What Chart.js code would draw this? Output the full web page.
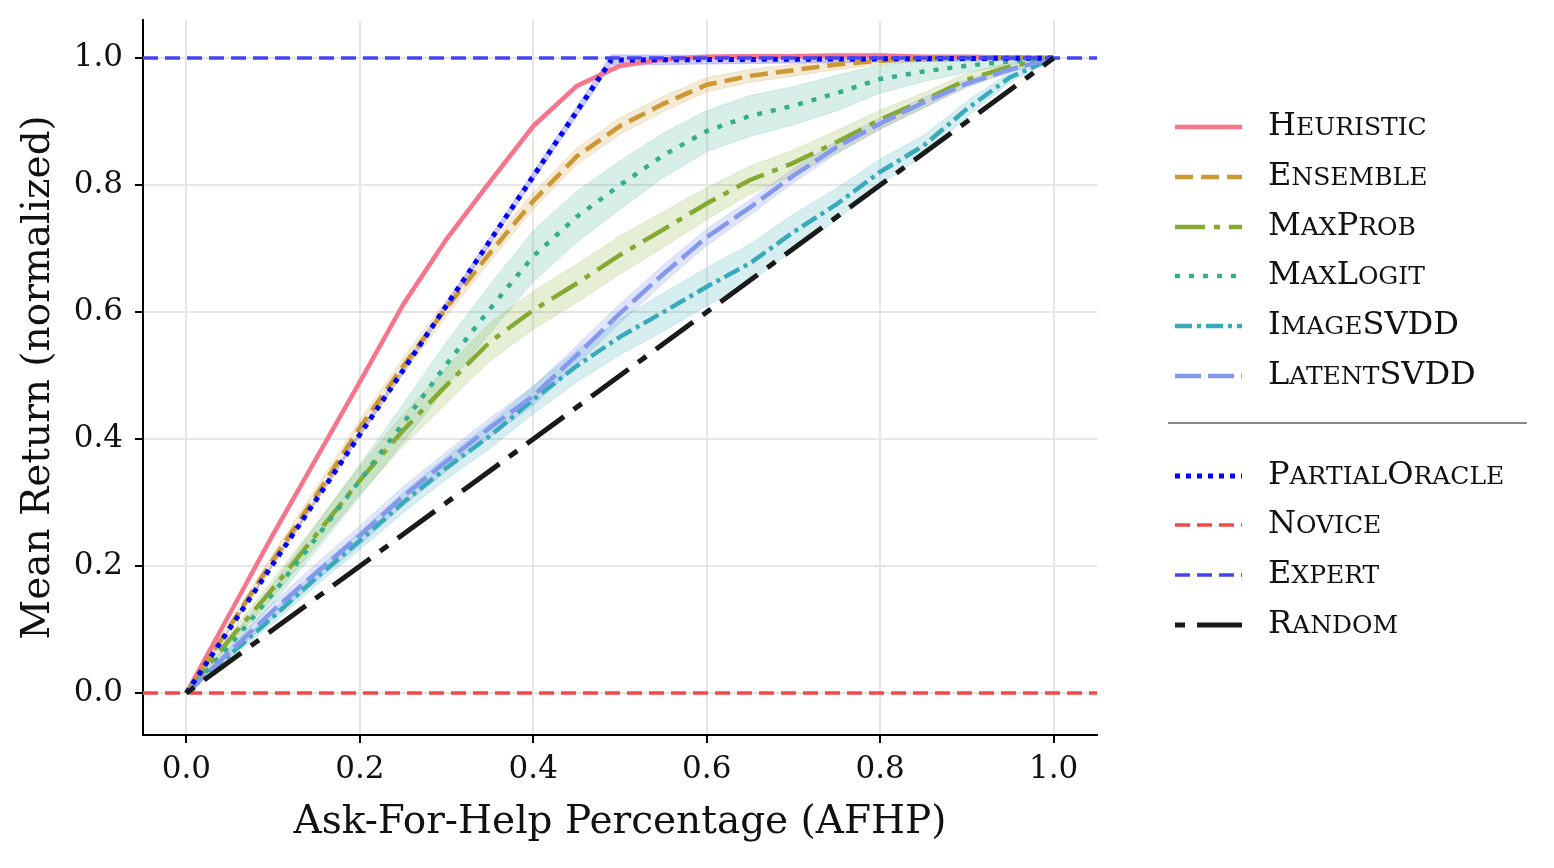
<!DOCTYPE html>
<html>
<head>
<meta charset="utf-8">
<script src="https://cdn.jsdelivr.net/npm/chart.js@4.4.0/dist/chart.umd.min.js"></script>
<style>
  html, body { margin: 0; padding: 0; background: #fff; }
  #wrap { position: relative; width: 1554px; height: 868px; }
  #legend { position: absolute; left: 0; top: 0; width: 1554px; height: 868px; pointer-events: none; }
  .row { position: absolute; left: 1170px; height: 40px; display: flex; align-items: center; }
  .row .lbl { margin-left: 24px; font-family: 'DejaVu Serif', serif; color: #111; white-space: nowrap; line-height: 40px; }
  .big { font-size: 32px; }
  .small { font-size: 25px; }
  .sep { position: absolute; left: 1168px; width: 359px; height: 0; border-top: 2px solid #888; }
</style>
</head>
<body>
<div id="wrap">
  <canvas id="chart" width="1554" height="868"></canvas>
  <div id="legend"></div>
</div>
<script>
// x grid (ask-for-help percentage)
const afhp = [0, 0.05, 0.1, 0.15, 0.2, 0.25, 0.3, 0.35, 0.4, 0.45, 0.5, 0.55, 0.6, 0.65, 0.7, 0.75, 0.8, 0.85, 0.9, 0.95, 1.0];

const heuristic   = [0, 0.125, 0.25, 0.37, 0.49, 0.612, 0.715, 0.805, 0.893, 0.956, 0.988, 0.998, 1.002, 1.003, 1.003, 1.004, 1.004, 1.002, 1.002, 1.001, 1.0];
const heuristicSd = [0, 0.004, 0.005, 0.005, 0.005, 0.005, 0.005, 0.005, 0.005, 0.004, 0.004, 0.003, 0.003, 0.003, 0.003, 0.003, 0.003, 0.002, 0.002, 0.001, 0];

const ensemble   = [0, 0.105, 0.21, 0.312, 0.418, 0.515, 0.607, 0.693, 0.775, 0.845, 0.893, 0.928, 0.958, 0.972, 0.981, 0.99, 0.996, 1.0, 1.001, 1.001, 1.0];
const ensembleSd = [0, 0.006, 0.01, 0.012, 0.012, 0.013, 0.013, 0.013, 0.013, 0.013, 0.013, 0.012, 0.011, 0.01, 0.009, 0.008, 0.006, 0.004, 0.003, 0.002, 0];

const maxProb   = [0, 0.085, 0.165, 0.25, 0.335, 0.414, 0.485, 0.553, 0.603, 0.645, 0.69, 0.73, 0.771, 0.808, 0.835, 0.868, 0.903, 0.933, 0.966, 0.987, 1.0];
const maxProbSd = [0, 0.008, 0.014, 0.018, 0.022, 0.025, 0.028, 0.03, 0.03, 0.03, 0.03, 0.028, 0.025, 0.022, 0.02, 0.018, 0.015, 0.012, 0.01, 0.006, 0];

const maxLogit   = [0, 0.075, 0.157, 0.245, 0.335, 0.425, 0.518, 0.605, 0.688, 0.75, 0.8, 0.847, 0.885, 0.909, 0.925, 0.945, 0.967, 0.979, 0.988, 0.995, 1.0];
const maxLogitSd = [0, 0.008, 0.015, 0.02, 0.025, 0.03, 0.035, 0.038, 0.04, 0.04, 0.038, 0.035, 0.032, 0.032, 0.03, 0.028, 0.022, 0.016, 0.01, 0.006, 0];

const imageSvdd   = [0, 0.06, 0.12, 0.182, 0.24, 0.3, 0.355, 0.405, 0.462, 0.515, 0.561, 0.6, 0.64, 0.677, 0.726, 0.77, 0.821, 0.862, 0.92, 0.97, 1.0];
const imageSvddSd = [0, 0.006, 0.01, 0.012, 0.014, 0.016, 0.018, 0.02, 0.022, 0.025, 0.028, 0.03, 0.03, 0.03, 0.028, 0.025, 0.02, 0.016, 0.012, 0.008, 0];

const latentSvdd   = [0, 0.065, 0.13, 0.19, 0.248, 0.31, 0.365, 0.418, 0.468, 0.532, 0.598, 0.66, 0.718, 0.765, 0.815, 0.86, 0.897, 0.93, 0.96, 0.982, 1.0];
const latentSvddSd = [0, 0.008, 0.012, 0.014, 0.015, 0.015, 0.015, 0.015, 0.015, 0.015, 0.015, 0.014, 0.013, 0.012, 0.011, 0.01, 0.009, 0.008, 0.006, 0.004, 0];

const oracleX  = [0, 0.49, 1.0];
const oracle   = [0, 0.997, 1.0];
const oracleSd = [0, 0.008, 0.003];

const randomX = [0, 1.0];
const random  = [0, 1.0];

const baselineX = [-0.05, 1.05];
const novice = [0, 0];
const expert = [1, 1];

const xTicks = [0, 0.2, 0.4, 0.6, 0.8, 1.0];
const yTicks = [0, 0.2, 0.4, 0.6, 0.8, 1.0];

const names = ['Heuristic', 'Ensemble', 'MaxProb', 'MaxLogit', 'ImageSVDD', 'LatentSVDD', 'PartialOracle', 'Novice', 'Expert', 'Random'];

// styles
const style = {
  Heuristic:     { color: '#f7758a', band: 'rgba(247,117,138,0.2)', width: 4.5, dash: [] },
  Ensemble:      { color: '#cc9833', band: 'rgba(204,152,51,0.2)',  width: 4.5, dash: [18, 8] },
  MaxProb:       { color: '#85aa33', band: 'rgba(133,170,51,0.2)',  width: 4.5, dash: [30, 9, 6, 9] },
  MaxLogit:      { color: '#35ae8a', band: 'rgba(53,174,138,0.2)',  width: 4.5, dash: [5, 9] },
  ImageSVDD:     { color: '#38aabb', band: 'rgba(56,170,187,0.2)',  width: 4.5, dash: [17, 5, 4, 5] },
  LatentSVDD:    { color: '#8499ee', band: 'rgba(132,153,238,0.25)', width: 4.5, dash: [26, 7] },
  PartialOracle: { color: '#0000ff', band: 'rgba(110,110,255,0.35)', width: 5, dash: [5, 6] },
  Novice:        { color: '#f44848', width: 3.5, dash: [15, 7] },
  Expert:        { color: '#4444f4', width: 3.5, dash: [15, 7] },
  Random:        { color: '#1a1a1a', width: 5, dash: [10, 12, 46, 12] }
};

function pts(xs, ys) { return xs.map((x, i) => ({ x: x, y: ys[i] })); }

const datasets = [];

function addBand(name, xs, mean, sd) {
  const s = style[name];
  datasets.push({
    label: name + ' upper', data: pts(xs, mean.map((m, i) => m + sd[i])),
    borderColor: s.band, borderWidth: 1, pointRadius: 0, fill: false, order: 100
  });
  datasets.push({
    label: name + ' lower', data: pts(xs, mean.map((m, i) => m - sd[i])),
    borderColor: s.band, borderWidth: 1, pointRadius: 0, fill: '-1', backgroundColor: s.band, order: 100
  });
}

function addLine(name, xs, ys, order) {
  const s = style[name];
  datasets.push({
    label: name, data: pts(xs, ys), borderColor: s.color, borderWidth: s.width,
    borderDash: s.dash, borderCapStyle: 'butt', pointRadius: 0, fill: false, order: order
  });
}

addBand('Heuristic', afhp, heuristic, heuristicSd);
addBand('Ensemble', afhp, ensemble, ensembleSd);
addBand('MaxProb', afhp, maxProb, maxProbSd);
addBand('MaxLogit', afhp, maxLogit, maxLogitSd);
addBand('ImageSVDD', afhp, imageSvdd, imageSvddSd);
addBand('LatentSVDD', afhp, latentSvdd, latentSvddSd);
addBand('PartialOracle', oracleX, oracle, oracleSd);

addLine('Heuristic', afhp, heuristic, 10);
addLine('Ensemble', afhp, ensemble, 9);
addLine('MaxProb', afhp, maxProb, 8);
addLine('MaxLogit', afhp, maxLogit, 7);
addLine('ImageSVDD', afhp, imageSvdd, 6);
addLine('LatentSVDD', afhp, latentSvdd, 5);
addLine('PartialOracle', oracleX, oracle, 4);
addLine('Novice', baselineX, novice, 3);
addLine('Expert', baselineX, expert, 2);
addLine('Random', randomX, random, 1);

Chart.defaults.font.family = "'DejaVu Serif', serif";
Chart.defaults.color = '#111';

const titleFont = { size: 39, family: "'DejaVu Serif', serif" };
const tickFont = { size: 31, family: "'DejaVu Serif', serif" };

new Chart(document.getElementById('chart').getContext('2d'), {
  type: 'line',
  data: { datasets: datasets },
  options: {
    responsive: false,
    animation: false,
    devicePixelRatio: 1,
    layout: { padding: { left: 0, top: 20, right: 457, bottom: 0 } },
    plugins: { legend: { display: false }, tooltip: { enabled: false } },
    scales: {
      x: {
        type: 'linear', min: -0.05, max: 1.05,
        afterBuildTicks: s => { s.ticks = xTicks.map(v => ({ value: v })); },
        afterFit: s => { s.height = 133; s.paddingLeft = 0; s.paddingRight = 0; },
        ticks: { font: tickFont, padding: 8, maxRotation: 0, callback: v => v.toFixed(1) },
        grid: { color: '#e6e6e6', lineWidth: 2, tickColor: '#000', tickWidth: 2, tickLength: 8 },
        border: { display: true, color: '#000', width: 2 },
        title: { display: true, text: 'Ask-For-Help Percentage (AFHP)', font: titleFont, padding: { top: 0, bottom: 22 } }
      },
      y: {
        type: 'linear', min: -0.066, max: 1.06,
        afterBuildTicks: s => { s.ticks = yTicks.map(v => ({ value: v })); },
        afterFit: s => { s.width = 143; s.paddingTop = 0; s.paddingBottom = 0; },
        ticks: { font: tickFont, padding: 12, callback: v => v.toFixed(1) },
        grid: { color: '#e6e6e6', lineWidth: 2, tickColor: '#000', tickWidth: 2, tickLength: 8 },
        border: { display: true, color: '#000', width: 2 },
        title: { display: true, text: 'Mean Return (normalized)', font: titleFont, padding: { top: 15, bottom: 0 } }
      }
    }
  }
});

// legend (HTML, right side) with small capitals built from the names
const legend = document.getElementById('legend');
const rowY = [127, 177, 227, 276, 326, 376, 476, 525, 575, 625];
const svgNS = 'http://www.w3.org/2000/svg';
names.forEach((name, i) => {
  const s = style[name];
  const row = document.createElement('div');
  row.className = 'row';
  row.style.top = (rowY[i] - 20) + 'px';
  const svg = document.createElementNS(svgNS, 'svg');
  svg.setAttribute('width', '74');
  svg.setAttribute('height', '20');
  const ln = document.createElementNS(svgNS, 'line');
  ln.setAttribute('x1', '5'); ln.setAttribute('x2', '72');
  ln.setAttribute('y1', '10'); ln.setAttribute('y2', '10');
  ln.setAttribute('stroke', s.color);
  ln.setAttribute('stroke-width', s.width);
  if (s.dash.length) ln.setAttribute('stroke-dasharray', s.dash.join(' '));
  svg.appendChild(ln);
  const lbl = document.createElement('span');
  lbl.className = 'lbl';
  // split into runs of capitals / lower case
  const runs = name.match(/[A-Z]+|[^A-Z]+/g);
  runs.forEach(r => {
    const sp = document.createElement('span');
    const upper = r === r.toUpperCase();
    sp.className = upper ? 'big' : 'small';
    sp.textContent = upper ? r : r.toUpperCase();
    lbl.appendChild(sp);
  });
  row.appendChild(svg);
  row.appendChild(lbl);
  legend.appendChild(row);
});
const sep = document.createElement('div');
sep.className = 'sep';
sep.style.top = '422px';
legend.appendChild(sep);
</script>
</body>
</html>
